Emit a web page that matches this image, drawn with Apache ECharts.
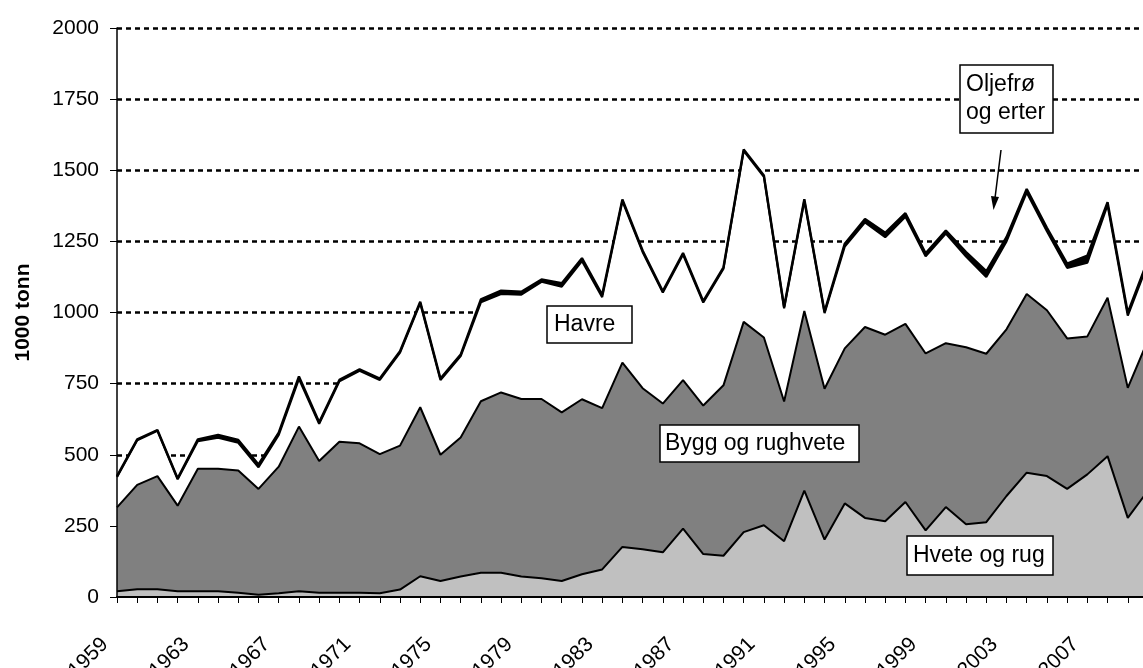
<!DOCTYPE html>
<html>
<head>
<meta charset="utf-8">
<script src="https://cdn.jsdelivr.net/npm/echarts@6/dist/echarts.min.js"></script>
<style>
html,body{margin:0;padding:0;background:#fff;}
#c{width:1143px;height:668px;}
</style>
</head>
<body>
<div id="c"></div>
<script>
// Categories (years)
const years = ['1959','1960','1961','1962','1963','1964','1965','1966','1967','1968',
'1969','1970','1971','1972','1973','1974','1975','1976','1977','1978',
'1979','1980','1981','1982','1983','1984','1985','1986','1987','1988',
'1989','1990','1991','1992','1993','1994','1995','1996','1997','1998',
'1999','2000','2001','2002','2003','2004','2005','2006','2007','2008',
'2009','2010'];

// Series values, 1000 tonn (stacked from bottom)
const hveteOgRug = [20,27,27,20,20,20,15,8,13,20,
15,15,15,13,26,73,56,72,85,85,
72,66,56,80,97,176,168,157,240,151,
145,228,252,196,374,202,329,278,266,334,
234,316,256,263,355,437,425,380,431,495,
278,374];

const byggOgRughvete = [295,367,398,301,431,431,430,372,445,579,
463,531,525,489,506,594,444,489,603,634,
624,630,593,615,567,648,566,523,522,522,
599,739,660,491,631,530,545,671,656,626,
622,576,622,592,586,628,583,529,485,557,
457,529];

const havre = [107,157,159,93,97,109,97,76,112,168,
131,212,255,261,327,366,263,286,348,346,
367,412,442,486,390,568,479,390,442,362,
410,601,565,328,388,266,358,368,343,377,
342,386,319,270,309,357,278,248,259,326,
254,272];

const oljefroOgErter = [3,3,3,3,6,10,10,10,8,8,
5,5,5,5,5,5,5,5,10,12,
10,8,12,10,8,5,5,5,5,5,
5,5,5,5,5,5,10,12,15,12,
10,10,15,20,15,12,12,15,25,10,
10,10];

const yTicks = [0,250,500,750,1000,1250,1500,1750,2000];

const FONT = '"Liberation Sans", Arial, sans-serif';

const seriesDefs = [
  {name:'Hvete og rug', data:hveteOgRug, fill:'#C0C0C0', lw:2},
  {name:'Bygg og rughvete', data:byggOgRughvete, fill:'#808080', lw:2},
  {name:'Havre', data:havre, fill:'#FFFFFF', lw:2.2},
  {name:'Oljefrø og erter', data:oljefroOgErter, fill:'#000000', lw:2.4}
];

const series = [];
seriesDefs.forEach(function(s){
  series.push({
    name:s.name, type:'line', stack:'areas', data:s.data, yAxisIndex:0,
    symbol:'none', lineStyle:{width:0}, areaStyle:{color:s.fill, opacity:1},
    z:1, silent:true
  });
});
seriesDefs.forEach(function(s){
  series.push({
    name:s.name+'_l', type:'line', stack:'lines', data:s.data, yAxisIndex:0,
    symbol:'none', lineStyle:{width:s.lw, color:'#000'}, z:3, silent:true
  });
});

function box(x,y,w,h,lines,tx,ty,lh){
  const els = [{type:'rect', shape:{x:x,y:y,width:w,height:h},
    style:{fill:'#fff', stroke:'#000', lineWidth:1.5}, z:100}];
  lines.forEach(function(t,i){
    els.push({type:'text', z:101, style:{text:t, x:tx, y:ty+i*lh, fill:'#000',
      font:'23px '+FONT, align:'left', verticalAlign:'middle'}});
  });
  return els;
}

const annotations = [].concat(
  box(547,306,85,37,['Havre'],554,325,0),
  box(660,425,199,37,['Bygg og rughvete'],665,444,0),
  box(907,536,146,39,['Hvete og rug'],913,556,0),
  box(960,65,93,68,['Oljefrø','og erter'],966,85,28),
  [
    {type:'line', shape:{x1:1001,y1:150,x2:995,y2:198}, style:{stroke:'#000', lineWidth:1.5}, z:100},
    {type:'polygon', shape:{points:[[993.5,210],[999,197],[991,196]]}, style:{fill:'#000'}, z:100}
  ]
);

const yMin = yTicks[0], yMax = yTicks[yTicks.length-1];

const chart = echarts.init(document.getElementById('c'), null, {renderer:'canvas'});
chart.setOption({
  animation:false,
  backgroundColor:'#fff',
  grid:{left:117, top:28, width:1031, height:569, containLabel:false, outerBoundsMode:'none'},
  xAxis:{
    type:'category', data:years, boundaryGap:false, z:10,
    axisLine:{show:true, onZero:false, lineStyle:{color:'#000', width:2}},
    axisTick:{show:true, interval:0, length:6, lineStyle:{color:'#000', width:1}},
    axisLabel:{interval:3, rotate:45, color:'#000', fontSize:21, fontFamily:FONT,
      margin:32, padding:[0,17,0,0], hideOverlap:false},
    splitLine:{show:false}
  },
  yAxis:[
    {
      type:'value', min:yMin, max:yMax, interval:250, position:'left', z:0,
      axisLine:{show:false}, axisTick:{show:false}, axisLabel:{show:false},
      splitLine:{show:true, showMinLine:false, lineStyle:{color:'#000', width:2.5, type:[5,4]}}
    },
    {
      type:'value', min:yMin, max:yMax, interval:250, position:'left', offset:0, z:10,
      name:'1000 tonn', nameLocation:'middle', nameRotate:90, nameGap:83,
      nameTextStyle:{color:'#000', fontSize:21, fontWeight:'bold', fontFamily:FONT},
      axisLine:{show:true, lineStyle:{color:'#000', width:1.5}},
      axisTick:{show:true, length:7, lineStyle:{color:'#000', width:1}},
      axisLabel:{color:'#000', fontSize:21, fontFamily:FONT, margin:18,
        formatter:function(v){return String(v);}},
      splitLine:{show:false}
    }
  ],
  series:series,
  graphic:annotations
});

// Baseline along the category axis, positioned through the library's scales
const pStart = chart.convertToPixel({xAxisIndex:0, yAxisIndex:0}, [0, yMin]);
const pEnd = chart.convertToPixel({xAxisIndex:0, yAxisIndex:0}, [years.length-1, yMin]);
chart.setOption({
  graphic: annotations.concat([{
    type:'line', z:50,
    shape:{x1:pStart[0], y1:pStart[1], x2:pEnd[0], y2:pEnd[1]},
    style:{stroke:'#000', lineWidth:2}
  }])
});
</script>
</body>
</html>
